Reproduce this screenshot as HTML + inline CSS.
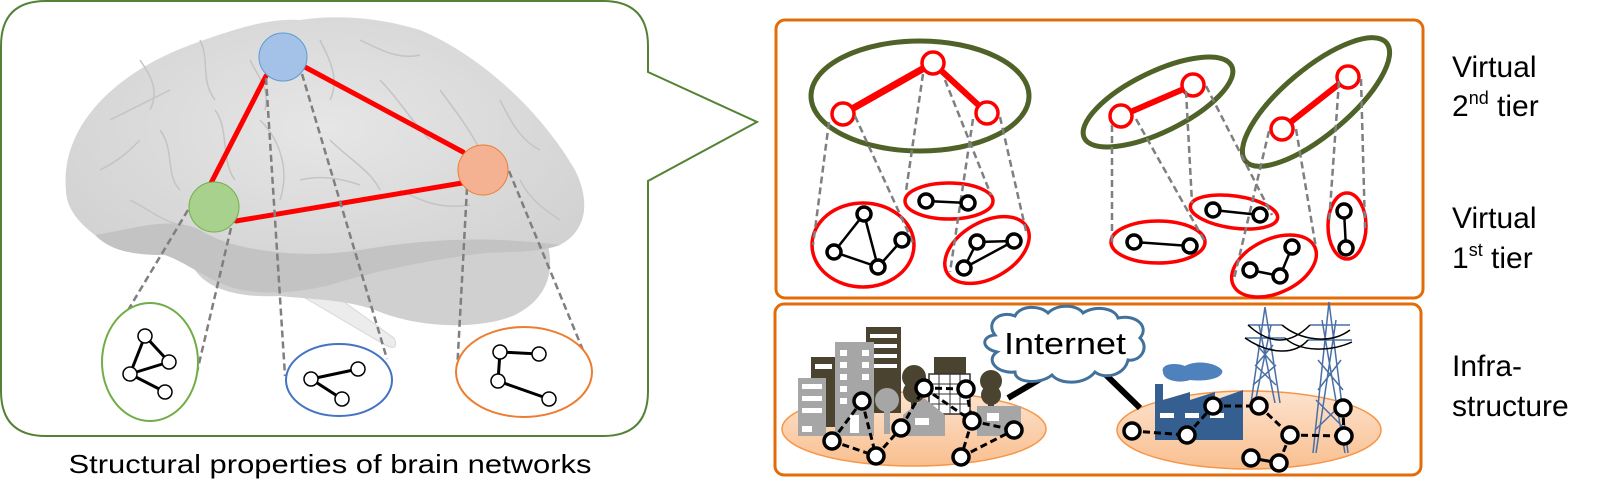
<!DOCTYPE html>
<html><head><meta charset="utf-8"><style>
html,body{margin:0;padding:0;background:#fff;}
svg{display:block;}
text{font-family:"Liberation Sans",sans-serif;}
</style></head><body>
<svg width="1616" height="500" viewBox="0 0 1616 500" xmlns="http://www.w3.org/2000/svg">
<defs>
<linearGradient id="peach" x1="0" y1="0" x2="0" y2="1"><stop offset="0" stop-color="#fde3cf"/><stop offset="1" stop-color="#f9bf8f"/></linearGradient>
<radialGradient id="brainG" cx="0.5" cy="0.4" r="0.6"><stop offset="0" stop-color="#e6e6e6"/><stop offset="1" stop-color="#d2d2d2"/></radialGradient>
</defs>

<!-- callout -->
<path d="M46,1 H603 Q648,1 648,46 V72 L757,122 L648,181 V391 Q648,436 603,436 H46 Q1,436 1,391 V46 Q1,1 46,1 Z" fill="#fff" stroke="#548235" stroke-width="2"/>

<!-- brain -->
<path d="M300,295 L385,345 Q400,352 394,338 L325,288 Z" fill="#ececec" stroke="#d8d8d8"/>
<path d="M190,260 C200,290 240,298 280,296 C320,300 350,300 380,312 C420,328 480,330 515,315 C545,300 555,275 548,245 Z" fill="#d0d0d0"/>
<path d="M66,190 C60,130 110,75 190,45 C240,27 270,18 300,20 C340,14 380,18 420,30 C480,55 540,110 575,170 C590,200 588,230 560,245 C530,255 500,250 470,255 C420,262 380,270 330,285 C290,295 250,295 225,285 C200,275 185,262 165,255 C130,255 110,250 95,235 C75,220 66,205 66,190 Z" fill="url(#brainG)"/>
<path d="M95,235 C130,230 170,215 200,230 C230,250 300,260 360,250 C420,240 480,235 560,245 C530,255 500,250 470,255 C420,262 380,270 330,285 C290,295 250,295 225,285 C200,275 185,262 165,255 C130,255 110,250 95,235 Z" fill="#c3c3c3"/>
<g fill="none" stroke="#c4c4c4" stroke-width="1.5">
<path d="M110,120 C130,110 150,100 170,90 M140,60 C150,75 160,90 150,110 M200,40 C210,60 200,80 215,100"/>
<path d="M100,170 C120,160 130,150 140,140 M160,130 C175,150 165,175 180,190 M215,110 C230,130 220,160 235,180"/>
<path d="M320,40 C330,60 340,80 330,100 M360,40 C380,50 400,60 420,55 M380,80 C400,100 410,120 430,140"/>
<path d="M440,90 C455,110 470,130 480,150 M500,100 C510,120 520,140 540,150 M260,120 C280,140 290,170 280,200"/>
<path d="M330,140 C350,160 370,170 380,190 M300,180 C320,175 340,178 360,185 M400,190 C420,200 440,210 470,205"/>
<path d="M130,200 C150,210 160,220 180,225 M520,180 C530,200 545,210 560,220 M250,60 C260,80 270,90 265,110"/>
</g>

<!-- red lines -->
<g stroke="#ff0000" stroke-width="5" stroke-linecap="round">
<line x1="266" y1="76" x2="210" y2="185"/>
<line x1="303" y1="66" x2="463" y2="152"/>
<line x1="236" y1="221" x2="462" y2="183"/>
</g>

<!-- dashed gray lines -->
<g stroke="#7f7f7f" stroke-width="2.5" stroke-dasharray="7,4" fill="none">
<line x1="188" y1="210" x2="103" y2="352"/>
<line x1="231" y1="228" x2="197" y2="372"/>
<line x1="266" y1="78" x2="285" y2="376"/>
<line x1="302" y1="74" x2="387" y2="359"/>
<line x1="467" y1="188" x2="457" y2="372"/>
<line x1="509" y1="171" x2="592" y2="372"/>
</g>

<!-- nodes -->
<circle cx="283" cy="57" r="24" fill="#a4c2e8" stroke="#5b9bd5" stroke-width="1"/>
<circle cx="483" cy="170" r="25" fill="#f5b293" stroke="#ed7d31" stroke-width="1"/>
<circle cx="214" cy="207" r="25" fill="#a9d18e" stroke="#70ad47" stroke-width="1"/>

<!-- small ellipses -->
<ellipse cx="150" cy="362" rx="48" ry="59" fill="#fff" stroke="#70ad47" stroke-width="2"/>
<ellipse cx="339" cy="380" rx="53" ry="36" fill="#fff" stroke="#4472c4" stroke-width="2"/>
<ellipse cx="524" cy="372" rx="68" ry="45" fill="#fff" stroke="#ed7d31" stroke-width="2"/>
<g stroke="#000" stroke-width="3">
<line x1="145" y1="336" x2="130" y2="374"/><line x1="145" y1="336" x2="169" y2="362"/><line x1="130" y1="374" x2="169" y2="362"/><line x1="130" y1="374" x2="165" y2="392"/>
<line x1="311" y1="379" x2="358" y2="369"/><line x1="311" y1="379" x2="342" y2="399"/>
<line x1="500" y1="352" x2="539" y2="354"/><line x1="500" y1="352" x2="498" y2="381"/><line x1="498" y1="381" x2="549" y2="399"/>
</g>
<g fill="#fff" stroke="#000" stroke-width="1.5">
<circle cx="145" cy="336" r="7"/><circle cx="169" cy="362" r="7"/><circle cx="130" cy="374" r="7"/><circle cx="165" cy="392" r="7"/>
<circle cx="358" cy="369" r="7"/><circle cx="311" cy="379" r="7"/><circle cx="342" cy="399" r="7"/>
<circle cx="500" cy="352" r="7"/><circle cx="539" cy="354" r="7"/><circle cx="498" cy="381" r="7"/><circle cx="549" cy="399" r="7"/>
</g>
<text x="330" y="473" font-size="26" text-anchor="middle" textLength="523" lengthAdjust="spacingAndGlyphs" fill="#000">Structural properties of brain networks</text>

<!-- right boxes -->
<rect x="776" y="20" width="647" height="278" rx="9" fill="#fff" stroke="#e36c0a" stroke-width="3"/>
<rect x="775" y="304" width="646" height="171" rx="9" fill="#fff" stroke="#e36c0a" stroke-width="3"/>

<!-- green ellipses -->
<g fill="none" stroke="#4f6228" stroke-width="5">
<ellipse cx="920" cy="96" rx="109" ry="55"/>
<ellipse cx="1158" cy="102" rx="82" ry="30" transform="rotate(-26 1158 102)"/>
<ellipse cx="1316" cy="102" rx="92" ry="33" transform="rotate(-40 1316 102)"/>
</g>
<g stroke="#ff0000" stroke-linecap="round">
<line x1="843" y1="114" x2="933" y2="63" stroke-width="7"/>
<line x1="933" y1="63" x2="987" y2="113" stroke-width="6"/>
<line x1="1121" y1="116" x2="1193" y2="85" stroke-width="6"/>
<line x1="1282" y1="129" x2="1348" y2="77" stroke-width="6"/>
</g>
<g fill="#fff" stroke="#ff0000" stroke-width="3.5">
<circle cx="933" cy="63" r="11"/><circle cx="843" cy="114" r="11"/><circle cx="987" cy="113" r="11"/>
<circle cx="1121" cy="116" r="11"/><circle cx="1193" cy="85" r="11"/>
<circle cx="1282" cy="129" r="11"/><circle cx="1348" cy="77" r="11"/>
</g>

<!-- tier1 red ellipses -->
<g fill="#fff" stroke="#ff0000" stroke-width="3.5">
<ellipse cx="863" cy="245" rx="51" ry="42"/>
<ellipse cx="949" cy="201" rx="44" ry="18"/>
<ellipse cx="987" cy="250" rx="46" ry="28" transform="rotate(-30 987 250)"/>
<ellipse cx="1158" cy="242" rx="47" ry="21"/>
<ellipse cx="1234" cy="212" rx="44" ry="16" transform="rotate(8 1234 212)"/>
<ellipse cx="1274" cy="266" rx="45" ry="27" transform="rotate(-25 1274 266)"/>
<ellipse cx="1347" cy="226" rx="19" ry="33"/>
</g>

<!-- dashed gray right -->
<g stroke="#7f7f7f" stroke-width="2.5" stroke-dasharray="7,4" fill="none">
<line x1="829" y1="122" x2="813" y2="245"/><line x1="855" y1="116" x2="914" y2="245"/>
<line x1="923" y1="74" x2="906" y2="191"/><line x1="945" y1="80" x2="991" y2="195"/>
<line x1="973" y1="119" x2="950" y2="272"/><line x1="1000" y1="117" x2="1026" y2="231"/>
<line x1="1112" y1="125" x2="1112" y2="243"/><line x1="1136" y1="119" x2="1204" y2="240"/>
<line x1="1186" y1="91" x2="1192" y2="203"/><line x1="1206" y1="86" x2="1272" y2="215"/>
<line x1="1269" y1="131" x2="1234" y2="279"/><line x1="1296" y1="129" x2="1316" y2="248"/>
<line x1="1339" y1="81" x2="1329" y2="223"/><line x1="1361" y1="79" x2="1365" y2="228"/>
</g>

<!-- tier1 graphs -->
<g stroke="#000" stroke-width="2.5">
<line x1="864" y1="214" x2="834" y2="252"/><line x1="864" y1="214" x2="878" y2="267"/><line x1="834" y1="252" x2="878" y2="267"/><line x1="878" y1="267" x2="902" y2="240"/>
<line x1="926" y1="201" x2="968" y2="203"/>
<line x1="977" y1="242" x2="1014" y2="241"/><line x1="977" y1="242" x2="964" y2="268"/><line x1="964" y1="268" x2="1014" y2="241"/>
<line x1="1134" y1="242" x2="1190" y2="246"/>
<line x1="1213" y1="210" x2="1260" y2="215"/>
<line x1="1250" y1="270" x2="1280" y2="276"/><line x1="1280" y1="276" x2="1292" y2="247"/>
<line x1="1344" y1="211" x2="1346" y2="248"/>
</g>
<g fill="#fff" stroke="#000" stroke-width="3.5">
<circle cx="864" cy="214" r="7"/><circle cx="834" cy="252" r="7"/><circle cx="878" cy="267" r="7"/><circle cx="902" cy="240" r="7"/>
<circle cx="926" cy="201" r="7"/><circle cx="968" cy="203" r="7"/>
<circle cx="977" cy="242" r="7"/><circle cx="1014" cy="241" r="7"/><circle cx="964" cy="268" r="7"/>
<circle cx="1134" cy="242" r="7"/><circle cx="1190" cy="246" r="7"/>
<circle cx="1213" cy="210" r="7"/><circle cx="1260" cy="215" r="7"/>
<circle cx="1292" cy="247" r="7"/><circle cx="1280" cy="276" r="7"/><circle cx="1250" cy="270" r="7"/>
<circle cx="1344" cy="211" r="7"/><circle cx="1346" cy="248" r="7"/>
</g>

<!-- infrastructure -->
<ellipse cx="914" cy="429" rx="132" ry="37" fill="url(#peach)" stroke="#f79646" stroke-width="1.5"/>
<ellipse cx="1249" cy="430" rx="132" ry="39" fill="url(#peach)" stroke="#f79646" stroke-width="1.5"/>
<!-- buildings -->
<rect x="866" y="327" width="35" height="86" fill="#4a4330"/>
<g fill="#fff"><rect x="870" y="334" width="27" height="4"/><rect x="870" y="344" width="27" height="4"/><rect x="870" y="354" width="27" height="4"/><rect x="870" y="364" width="27" height="4"/></g>
<rect x="811" y="357" width="25" height="70" fill="#4a4330"/>
<rect x="815" y="364" width="17" height="5" fill="#fff"/>
<rect x="835" y="342" width="39" height="94" fill="#a6a6a6"/>
<g fill="#fff"><rect x="840" y="350" width="7" height="6"/><rect x="862" y="350" width="7" height="6"/><rect x="840" y="362" width="7" height="6"/><rect x="862" y="362" width="7" height="6"/><rect x="840" y="374" width="7" height="6"/><rect x="862" y="374" width="7" height="6"/><rect x="840" y="386" width="7" height="6"/><rect x="840" y="398" width="7" height="6"/><rect x="850" y="415" width="9" height="18"/></g>
<rect x="798" y="378" width="28" height="58" fill="#a6a6a6"/>
<g fill="#fff"><rect x="802" y="384" width="20" height="5"/><rect x="802" y="396" width="20" height="5"/><rect x="802" y="408" width="20" height="5"/><rect x="802" y="426" width="10" height="6"/></g>
<rect x="934" y="357" width="32" height="40" fill="#4a4330"/>
<rect x="929" y="374" width="41" height="40" fill="#fff" stroke="#333" stroke-width="1.5"/>
<path d="M929,384 H970 M929,394 H970 M929,404 H970 M939,374 V414 M950,374 V414 M960,374 V414" stroke="#333" stroke-width="1"/>
<circle cx="887" cy="400" r="12" fill="#a6a6a6"/><rect x="884" y="400" width="6" height="34" fill="#a6a6a6"/>
<circle cx="914" cy="377" r="12" fill="#4a4330"/><circle cx="914" cy="392" r="11" fill="#4a4330"/><rect x="911" y="392" width="6" height="30" fill="#4a4330"/>
<circle cx="991" cy="381" r="11" fill="#4a4330"/><circle cx="991" cy="395" r="10" fill="#4a4330"/><rect x="988" y="395" width="6" height="20" fill="#4a4330"/>
<path d="M903,415 L924,398 L945,415 V436 H903 Z" fill="#a6a6a6"/>
<rect x="915" y="418" width="14" height="7" fill="#fff"/>
<rect x="977" y="406" width="44" height="30" fill="#a6a6a6"/>
<rect x="987" y="413" width="12" height="8" fill="#fff"/>
<!-- cloud -->
<line x1="1008" y1="398" x2="1042" y2="378" stroke="#000" stroke-width="6"/>
<line x1="1105" y1="374" x2="1140" y2="408" stroke="#000" stroke-width="6"/>
<path d="M995,335 C985,322 1000,310 1015,316 C1020,305 1040,305 1048,313 C1058,303 1078,305 1083,313 C1095,305 1115,308 1118,318 C1135,314 1150,326 1140,338 C1150,348 1140,362 1128,360 C1125,375 1105,380 1095,372 C1085,385 1060,385 1052,375 C1040,385 1015,383 1015,372 C997,374 985,360 997,352 C980,348 982,336 995,335 Z" fill="#fff" stroke="#41719c" stroke-width="3"/>
<text x="1004" y="354" font-size="31" textLength="122" lengthAdjust="spacingAndGlyphs" fill="#000">Internet</text>
<!-- factory -->
<path d="M1163,372 C1160,364 1175,362 1185,366 C1195,360 1215,362 1222,370 C1225,378 1205,382 1190,380 C1178,384 1163,380 1163,372 Z" fill="#4f81bd"/>
<path d="M1155,440 V384 H1163 V400 L1190,392 V400 L1215,392 V400 L1243,390 V440 Z" fill="#355f91"/>
<g fill="#fff"><rect x="1160" y="413" width="14" height="5"/><rect x="1185" y="413" width="14" height="5"/><rect x="1210" y="413" width="14" height="5"/></g>
<!-- towers -->
<g stroke="#4a6fa5" stroke-width="1.5" fill="none">
<path d="M1265,307 L1251,403 M1265,307 L1280,403 M1248,325 H1282 M1245,338 H1285"/>
<path d="M1259,325 L1275,403 M1271,325 L1255,403 M1257,345 L1274,365 M1273,345 L1256,365 M1255,365 L1276,385 M1276,365 L1253,385"/>
<path d="M1329,302 L1313,453 M1329,302 L1348,453 M1310,325 H1350 M1308,340 H1352"/>
<path d="M1322,320 L1345,453 M1336,320 L1316,453 M1318,360 L1343,390 M1341,360 L1318,390 M1316,400 L1346,430 M1346,400 L1315,430"/>
</g>
<g stroke="#000" stroke-width="1.5" fill="none">
<path d="M1248,325 C1270,345 1290,345 1310,325"/><path d="M1245,338 C1270,355 1295,355 1308,340"/>
<path d="M1282,325 C1300,340 1330,345 1350,330"/><path d="M1285,338 C1300,352 1330,352 1352,342"/>
</g>
<!-- networks -->
<g stroke="#000" stroke-width="3" stroke-dasharray="7,4" fill="none">
<line x1="832" y1="441" x2="862" y2="401"/><line x1="832" y1="441" x2="876" y2="456"/><line x1="862" y1="401" x2="876" y2="456"/>
<line x1="876" y1="456" x2="901" y2="428"/><line x1="901" y1="428" x2="924" y2="388"/><line x1="924" y1="388" x2="966" y2="389"/>
<line x1="924" y1="388" x2="972" y2="421"/><line x1="966" y1="389" x2="972" y2="421"/><line x1="972" y1="421" x2="1014" y2="430"/>
<line x1="972" y1="421" x2="961" y2="457"/><line x1="961" y1="457" x2="1014" y2="430"/>
<line x1="1132" y1="431" x2="1187" y2="435"/><line x1="1187" y1="435" x2="1213" y2="406"/><line x1="1213" y1="406" x2="1259" y2="406"/>
<line x1="1259" y1="406" x2="1290" y2="435"/><line x1="1290" y1="435" x2="1279" y2="463"/><line x1="1290" y1="435" x2="1344" y2="436"/><line x1="1344" y1="436" x2="1343" y2="408"/>
</g>
<line x1="1251" y1="458" x2="1279" y2="463" stroke="#000" stroke-width="3"/>
<g fill="#fff" stroke="#000" stroke-width="3.5">
<circle cx="832" cy="441" r="8"/><circle cx="876" cy="456" r="8"/><circle cx="862" cy="401" r="8"/><circle cx="901" cy="428" r="8"/>
<circle cx="924" cy="388" r="8"/><circle cx="966" cy="389" r="8"/><circle cx="972" cy="421" r="8"/><circle cx="1014" cy="430" r="8"/><circle cx="961" cy="457" r="8"/>
<circle cx="1132" cy="431" r="8"/><circle cx="1187" cy="435" r="8"/><circle cx="1213" cy="406" r="8"/><circle cx="1259" cy="406" r="8"/>
<circle cx="1290" cy="435" r="8"/><circle cx="1279" cy="463" r="8"/><circle cx="1251" cy="458" r="8"/><circle cx="1343" cy="408" r="8"/><circle cx="1344" cy="436" r="8"/>
</g>

<!-- labels -->
<g font-size="30" fill="#000">
<text x="1452" y="77">Virtual</text>
<text x="1452" y="116">2<tspan font-size="18" dy="-12">nd</tspan><tspan dy="12"> tier</tspan></text>
<text x="1452" y="228">Virtual</text>
<text x="1452" y="268">1<tspan font-size="18" dy="-12">st</tspan><tspan dy="12"> tier</tspan></text>
<text x="1452" y="376">Infra-</text>
<text x="1452" y="416">structure</text>
</g>
</svg>
</body></html>
